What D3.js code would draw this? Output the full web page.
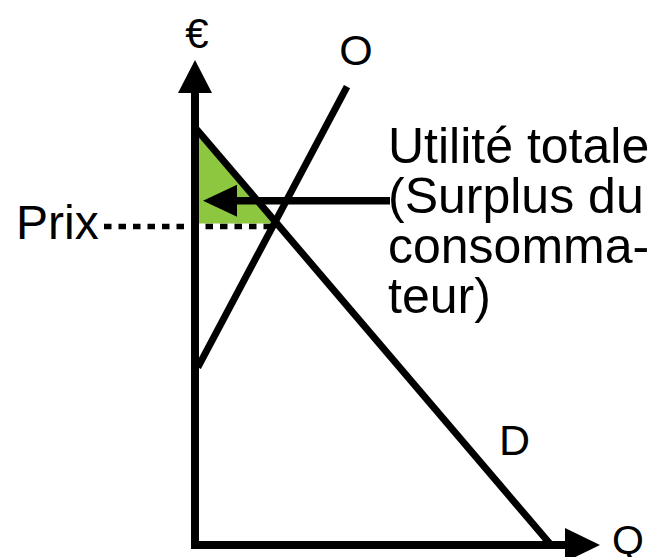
<!DOCTYPE html>
<html>
<head>
<meta charset="utf-8">
<script src="https://cdn.jsdelivr.net/npm/d3@7"></script>
<style>
  body { margin: 0; background: #fff; }
  text { font-family: "Liberation Sans", Arial, sans-serif; fill: #000; }
</style>
</head>
<body>
<div id="chart"></div>
<script>
// values in chart units (Q on x, € on y)
var demand = [[0, 87], [89, 0]];
var supply = [[0.7, 37], [38, 95.5]];
var price = 67;
var arrowFrom = [48.75, 71.7];
var arrowTo = [2, 71.7];
var noteLines = ["Utilité totale", "(Surplus du", "consomma-", "teur)"];
var axisLabels = {y: "€", x: "Q", supply: "O", demand: "D", price: "Prix"};

var width = 669, height = 557;

var svg = d3.select("#chart")
    .append("svg")
    .attr("width", width)
    .attr("height", height);

var x = d3.scaleLinear().domain([0, 100]).range([195, 595]);
var y = d3.scaleLinear().domain([0, 100]).range([545, 65]);

var line = d3.line()
    .x(function(d) { return x(d[0]); })
    .y(function(d) { return y(d[1]); });

// where the demand crosses the price
var dSlope = (demand[1][1] - demand[0][1]) / (demand[1][0] - demand[0][0]);
var qAtPrice = demand[0][0] + (price - demand[0][1]) / dSlope;

// consumer surplus triangle
svg.append("path")
    .attr("d", line([[0, demand[0][1]], [0, price], [qAtPrice, price]]) + "Z")
    .attr("fill", "#8dc63f");

// price dashed line
svg.append("line")
    .attr("x1", 104)
    .attr("x2", x(qAtPrice))
    .attr("y1", y(price) + 3)
    .attr("y2", y(price) + 3)
    .attr("stroke", "#000")
    .attr("stroke-width", 5.5)
    .attr("stroke-dasharray", "7.5,7");

// axes
svg.append("path")
    .attr("d", line([[0, 98], [0, 0], [92.5, 0]]))
    .attr("fill", "none")
    .attr("stroke", "#000")
    .attr("stroke-width", 8)
    .attr("stroke-linejoin", "miter")
    .attr("stroke-linecap", "butt");

// axis arrow heads
svg.append("path")
    .attr("d", "M" + x(0) + "," + (y(100) - 5) + "L" + (x(0) - 17) + "," + (y(100) + 28) +
        "L" + (x(0) + 17) + "," + (y(100) + 28) + "Z")
    .attr("fill", "#000");
svg.append("path")
    .attr("d", "M" + (x(100) + 5) + "," + y(0) + "L" + (x(100) - 30) + "," + (y(0) - 17) +
        "L" + (x(100) - 30) + "," + (y(0) + 17) + "Z")
    .attr("fill", "#000");

// supply and demand
[supply, demand].forEach(function(d) {
    svg.append("path")
        .attr("d", line(d))
        .attr("fill", "none")
        .attr("stroke", "#000")
        .attr("stroke-width", 7);
});

// arrow pointing to the surplus
svg.append("line")
    .attr("x1", x(arrowFrom[0]))
    .attr("y1", y(arrowFrom[1]))
    .attr("x2", x(arrowTo[0]) + 30)
    .attr("y2", y(arrowTo[1]))
    .attr("stroke", "#000")
    .attr("stroke-width", 7.5);
svg.append("path")
    .attr("d", "M" + x(arrowTo[0]) + "," + y(arrowTo[1]) +
        "L" + (x(arrowTo[0]) + 34) + "," + (y(arrowTo[1]) - 16) +
        "L" + (x(arrowTo[0]) + 34) + "," + (y(arrowTo[1]) + 16) + "Z")
    .attr("fill", "#000");

// labels
var fs = 50;
svg.append("text").attr("x", 197).attr("y", 48).attr("text-anchor", "middle")
    .style("font-size", "42px").text(axisLabels.y);
svg.append("text").attr("x", 356).attr("y", 65).attr("text-anchor", "middle")
    .style("font-size", "43px").text(axisLabels.supply);
svg.append("text").attr("x", 612).attr("y", 554)
    .style("font-size", "41px").text(axisLabels.x);
svg.append("text").attr("x", 499).attr("y", 455)
    .style("font-size", "43px").text(axisLabels.demand);
svg.append("text").attr("x", 16).attr("y", 239)
    .style("font-size", "48px").text(axisLabels.price);

svg.append("text")
    .style("font-size", fs + "px")
    .selectAll("tspan")
    .data(noteLines)
    .enter()
    .append("tspan")
    .attr("x", 388)
    .attr("y", function(d, i) { return 163 + i * 50; })
    .text(function(d) { return d; });
</script>
</body>
</html>
